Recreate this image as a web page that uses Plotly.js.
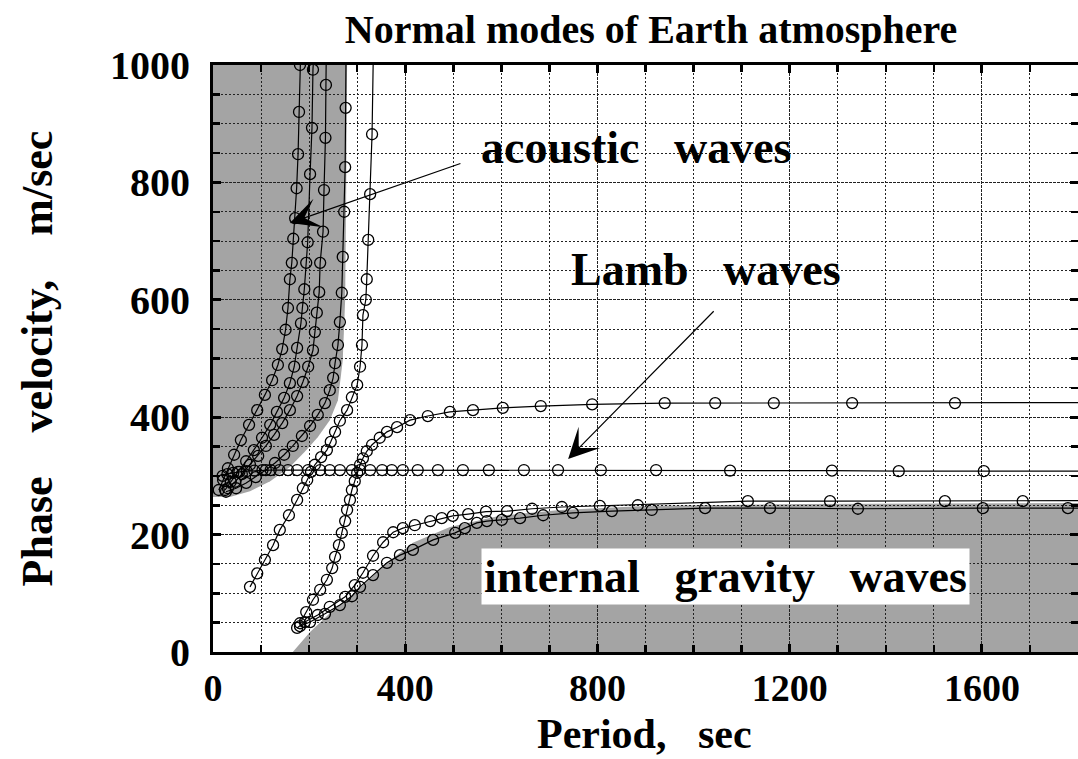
<!DOCTYPE html>
<html>
<head>
<meta charset="utf-8">
<script src="https://cdn.plot.ly/plotly-3.0.1.min.js"></script>
<style>
  html, body { margin: 0; padding: 0; background: #fff; }
  #chart { width: 1078px; height: 759px; }
</style>
</head>
<body>
<div id="chart"></div>
<script>
// Dispersion branches: period (s) vs phase velocity (m/s)
const acoustic1T = [12, 21, 31, 44, 58, 75, 92, 108, 123, 135, 144, 151, 156, 160, 164, 167, 171, 174, 177, 179, 181, 183];
const acoustic1V = [276, 293, 313, 336, 361, 387, 412, 438, 463, 489, 516, 549, 586, 635, 663, 704, 739, 790, 848, 920, 1000, 1040];

const acoustic2T = [25, 37, 52, 69, 85, 102, 119, 133, 148, 160, 169, 175, 183, 186, 190, 194, 197, 202, 206, 208, 211];
const acoustic2V = [276, 290, 307, 325, 344, 365, 387, 409, 433, 458, 486, 518, 560, 586, 618, 663, 698, 814, 893, 992, 1040];

const acoustic3T = [31, 46, 60, 77, 94, 110, 127, 144, 160, 175, 187, 198, 208, 212, 216, 221, 223, 229, 231, 234, 235, 236];
const acoustic3V = [279, 290, 303, 319, 334, 351, 370, 390, 412, 436, 460, 486, 514, 545, 578, 613, 663, 716, 787, 876, 966, 1040];

const acoustic4T = [27, 48, 69, 89, 110, 129, 148, 166, 185, 202, 218, 233, 243, 250, 254, 260, 264, 268, 270, 273, 275, 276, 277];
const acoustic4V = [273, 279, 288, 298, 310, 322, 336, 351, 368, 385, 404, 424, 446, 467, 492, 523, 562, 612, 673, 750, 826, 927, 1040];

// Mixed branch rising from the gravity region into the acoustic one
const mixedT = [77, 92, 108, 125, 139, 158, 175, 187, 196, 204, 212, 225, 237, 245, 254, 264, 279, 289, 300, 306, 310, 312, 318, 320, 323, 327, 331, 334];
const mixedV = [111, 134, 157, 182, 208, 233, 259, 279, 293, 307, 319, 332, 344, 358, 375, 394, 412, 434, 455, 486, 523, 574, 600, 635, 702, 780, 882, 1040];

// Upper gravity branch levelling off near 424 m/s
const gravity0T = [181, 194, 208, 223, 237, 248, 254, 262, 268, 275, 279, 285, 289, 295, 300, 306, 312, 320, 331, 347, 362, 383, 410, 447, 493, 541, 603, 682, 789, 940, 1045, 1167, 1330, 1544, 1900];
const gravity0V = [49, 68, 89, 106, 123, 143, 162, 182, 203, 223, 242, 259, 276, 291, 305, 319, 330, 342, 353, 365, 375, 383, 395, 402, 409, 412, 416, 419, 422, 424, 424, 424, 424, 424, 425];

// Lamb wave branch
const lambT = [20, 30, 42, 55, 70, 86, 103, 120, 138, 156, 175, 198, 223, 243, 264, 289, 306, 327, 352, 372, 395, 426, 468, 520, 574, 647, 718, 807, 922, 1076, 1288, 1427, 1604, 1900];
const lambV = [300, 303, 305, 307, 308, 309, 310, 310, 310, 310, 310, 310, 310, 310, 310, 310, 310, 310, 310, 310, 310, 310, 310, 310, 310, 310, 310, 310, 310, 309, 309, 308, 308, 308];

// Internal gravity branches levelling off near 250 m/s
const gravity1T = [175, 191, 218, 243, 275, 295, 312, 333, 354, 375, 395, 420, 452, 476, 499, 531, 568, 612, 664, 726, 805, 884, 1113, 1284, 1523, 1685, 1900];
const gravity1V = [41, 51, 63, 77, 94, 114, 135, 164, 187, 204, 211, 216, 223, 228, 232, 235, 239, 240, 244, 247, 249, 250, 257, 257, 257, 257, 258];

const gravity2T = [181, 202, 233, 264, 289, 306, 333, 362, 389, 416, 458, 504, 524, 549, 570, 601, 639, 687, 749, 830, 913, 1024, 1159, 1342, 1602, 1779, 1900];
const gravity2V = [44, 51, 65, 80, 95, 111, 131, 152, 165, 174, 191, 203, 211, 220, 223, 225, 228, 233, 237, 240, 242, 245, 245, 244, 245, 245, 245];

// Edges of the shaded propagation regions
const acousticEdgeT = [279, 277, 275, 270, 260, 243, 218, 191, 160, 119, 77, 35, 0];
const acousticEdgeV = [1000, 770, 600, 497, 429, 395, 366, 341, 315, 291, 274, 264, 264];
const gravityEdgeT = [166, 202, 243, 306, 362, 416, 493, 597, 722, 909, 1221, 1800];
const gravityEdgeV = [0, 34, 66, 109, 152, 186, 213, 232, 242, 249, 252, 254];

const SERIF = 'Liberation Serif, Times New Roman, serif';
const SP = '\u00a0\u00a0\u00a0';
const SP4 = '\u00a0\u00a0\u00a0\u00a0';

function branch(t, v) {
  return {
    x: t, y: v, type: 'scatter', mode: 'lines+markers',
    line: { color: '#000', width: 1.2 },
    marker: { symbol: 'circle-open', size: 11, color: '#000', line: { width: 1.3, color: '#000' } },
    hoverinfo: 'skip', showlegend: false
  };
}

const traces = [
  branch(acoustic1T, acoustic1V),
  branch(acoustic2T, acoustic2V),
  branch(acoustic3T, acoustic3V),
  branch(acoustic4T, acoustic4V),
  branch(mixedT, mixedV),
  branch(gravity0T, gravity0V),
  branch(lambT, lambV),
  branch(gravity1T, gravity1V),
  branch(gravity2T, gravity2V)
];

function regionPath(t, v, startT, startV, endT, endV) {
  let p = 'M' + startT + ',' + startV;
  for (let i = 0; i < t.length; i++) p += ' L' + t[i] + ',' + v[i];
  p += ' L' + endT + ',' + endV + ' Z';
  return p;
}

const shadeColor = '#a4a4a4';
const shapes = [
  { type: 'path', xref: 'x', yref: 'y', layer: 'below', line: { width: 0 }, fillcolor: shadeColor,
    path: regionPath(acousticEdgeT, acousticEdgeV, 0, 1000, 0, 264) },
  { type: 'path', xref: 'x', yref: 'y', layer: 'below', line: { width: 0 }, fillcolor: shadeColor,
    path: regionPath(gravityEdgeT, gravityEdgeV, 166, 0, 1800, 0) }
];

const labelFont = { family: SERIF, size: 46, color: '#000', weight: 'bold' };
const axisTitleFont = { family: SERIF, size: 44, color: '#000', weight: 'bold' };

const annotations = [
  { xref: 'x', yref: 'y', x: 880, y: 860, text: 'acoustic' + SP + 'waves', showarrow: false, font: labelFont },
  { xref: 'x', yref: 'y', x: 160, y: 731, axref: 'x', ayref: 'y', ax: 518, ay: 833, text: '',
    showarrow: true, arrowhead: 3, arrowsize: 4.2, arrowwidth: 1.2, arrowcolor: '#000' },
  { xref: 'x', yref: 'y', x: 1026, y: 651, text: 'Lamb' + SP + 'waves', showarrow: false, font: labelFont },
  { xref: 'x', yref: 'y', x: 739, y: 329, axref: 'x', ayref: 'y', ax: 1045, ay: 583, text: '',
    showarrow: true, arrowhead: 3, arrowsize: 4.2, arrowwidth: 1.2, arrowcolor: '#000' },
  { xref: 'x', yref: 'y', x: 1067, y: 128, text: 'internal' + SP + 'gravity' + SP + 'waves', showarrow: false,
    font: labelFont, bgcolor: '#fff', borderpad: 2 },
  // x-axis title, set just under the tick labels
  { xref: 'paper', yref: 'paper', x: 0.499, y: -0.1397, xanchor: 'center', yanchor: 'middle',
    text: 'Period,' + SP + 'sec', showarrow: false,
    font: { family: SERIF, size: 42, color: '#000', weight: 'bold' } }
];

const gridDash = '2px,2px';
const axisCommon = {
  showline: true, linecolor: '#000', linewidth: 3, mirror: 'allticks',
  ticks: 'inside', ticklen: 8, tickwidth: 3, tickcolor: '#000',
  showgrid: true, gridcolor: '#222', gridwidth: 1, griddash: '3px,1px',
  zeroline: false, fixedrange: true,
  tickfont: { family: SERIF, size: 38, color: '#000', weight: 'bold' }
};

const layout = {
  width: 1078, height: 759,
  margin: { l: 213, r: 0, t: 65, b: 107 },
  paper_bgcolor: '#fff', plot_bgcolor: '#fff',
  title: {
    text: 'Normal modes of Earth atmosphere',
    font: { family: SERIF, size: 40, color: '#000', weight: 'bold' },
    x: 0.604, xanchor: 'center', y: 0.962, yanchor: 'middle'
  },
  xaxis: Object.assign({}, axisCommon, {
    range: [0, 1800], tick0: 0, dtick: 400, ticklabelstandoff: 0,
    minor: { dtick: 100, ticks: 'inside', ticklen: 7, tickwidth: 2.5, tickcolor: '#000',
             showgrid: true, gridcolor: '#222', gridwidth: 1, griddash: gridDash }
  }),
  yaxis: Object.assign({}, axisCommon, {
    range: [0, 1000], tick0: 0, dtick: 200, ticklabelstandoff: 12,
    tickfont: { family: SERIF, size: 40, color: '#000', weight: 'bold' },
    minor: { dtick: 50, ticks: 'inside', ticklen: 7, tickwidth: 2.5, tickcolor: '#000',
             showgrid: true, gridcolor: '#222', gridwidth: 1, griddash: gridDash },
    title: { text: 'Phase' + SP4 + 'velocity,' + SP4 + 'm/sec', standoff: 44, font: axisTitleFont }
  }),
  shapes: shapes,
  annotations: annotations,
  showlegend: false
};

Plotly.newPlot('chart', traces, layout, { staticPlot: true, displayModeBar: false });
</script>
</body>
</html>
